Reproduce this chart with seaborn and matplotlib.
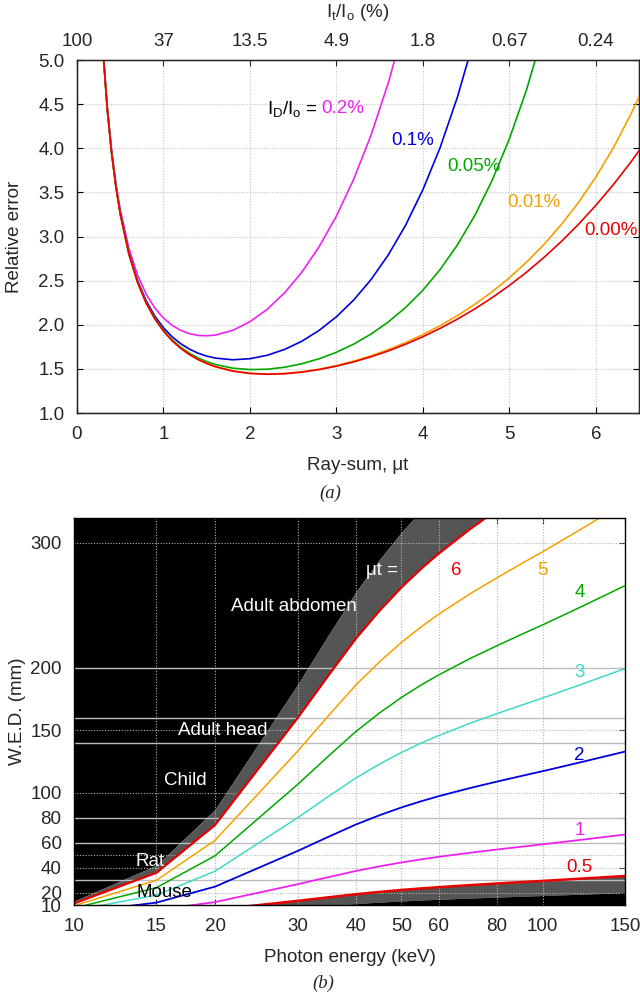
import matplotlib
matplotlib.use("Agg")
import matplotlib.pyplot as plt
import seaborn as sns

# ---- panel (a): relative error vs ray-sum ----
raysum = [0.3, 0.35, 0.4, 0.45, 0.5, 0.6, 0.7, 0.8, 0.9, 1.0, 1.1, 1.2, 1.3, 1.4, 1.5, 1.6,
          1.8, 2.0, 2.2, 2.4, 2.6, 2.8, 3.0, 3.2, 3.4, 3.6, 3.8, 4.0, 4.2, 4.4, 4.6, 4.8,
          5.0, 5.2, 5.4, 5.6, 5.8, 6.0, 6.2, 6.4, 6.5]
err_000 = [5.110, 4.444, 3.946, 3.561, 3.255, 2.800, 2.480, 2.245, 2.067, 1.928, 1.819, 1.732,
           1.662, 1.606, 1.561, 1.525, 1.475, 1.448, 1.439, 1.445, 1.463, 1.492, 1.531, 1.579,
           1.637, 1.703, 1.779, 1.864, 1.959, 2.064, 2.179, 2.306, 2.445, 2.596, 2.762, 2.942,
           3.138, 3.352, 3.584, 3.836, 3.971]
err_001 = [5.110, 4.444, 3.946, 3.561, 3.255, 2.800, 2.480, 2.245, 2.068, 1.929, 1.819, 1.733,
           1.663, 1.607, 1.562, 1.526, 1.477, 1.450, 1.442, 1.448, 1.467, 1.497, 1.537, 1.588,
           1.648, 1.718, 1.798, 1.888, 1.990, 2.104, 2.231, 2.373, 2.532, 2.710, 2.909, 3.133,
           3.385, 3.672, 3.999, 4.373, 4.581]
err_005 = [5.111, 4.446, 3.949, 3.564, 3.258, 2.804, 2.485, 2.251, 2.075, 1.938, 1.831, 1.745,
           1.678, 1.624, 1.582, 1.550, 1.508, 1.492, 1.496, 1.518, 1.558, 1.614, 1.688, 1.780,
           1.894, 2.031, 2.195, 2.391, 2.626, 2.905, 3.237, 3.633, 4.104, 4.665, 5.334]
err_01 = [5.116, 4.452, 3.956, 3.573, 3.268, 2.817, 2.501, 2.271, 2.098, 1.966, 1.864, 1.785,
          1.724, 1.678, 1.645, 1.622, 1.603, 1.615, 1.654, 1.720, 1.813, 1.936, 2.090, 2.280,
          2.511, 2.791, 3.127, 3.529, 4.008, 4.580, 5.260]
err_02 = [5.136, 4.476, 3.985, 3.606, 3.306, 2.866, 2.563, 2.347, 2.190, 2.076, 1.993, 1.936,
          1.899, 1.879, 1.875, 1.883, 1.936, 2.034, 2.175, 2.361, 2.595, 2.883, 3.231, 3.648,
          4.146, 4.739, 5.442]
top_ticks = [0, 1, 2, 3, 4, 5, 6]
top_labels = ["100", "37", "13.5", "4.9", "1.8", "0.67", "0.24"]

# ---- panel (b): water-equivalent diameter (mm) vs photon energy (keV) ----
energy = [10, 15, 20, 30, 35, 40, 45, 50, 55, 60, 70, 80, 90, 100, 120, 150]
wed_03 = [0.56, 1.79, 3.71, 7.99, 9.72, 11.18, 12.31, 13.22, 13.96, 14.57, 15.55, 16.33,
          17.00, 17.57, 18.62, 19.93]
wed_05 = [0.94, 2.99, 6.18, 13.31, 16.20, 18.64, 20.52, 22.04, 23.26, 24.28, 25.92, 27.22,
          28.33, 29.29, 31.04, 33.22]
wed_1 = [1.88, 5.98, 12.35, 26.62, 32.40, 37.27, 41.03, 44.07, 46.52, 48.57, 51.84, 54.44,
         56.65, 58.58, 62.07, 66.45]
wed_2 = [3.75, 11.95, 24.70, 53.25, 64.80, 74.54, 82.06, 88.14, 93.04, 97.13, 103.68, 108.87,
         113.30, 117.16, 124.14, 132.89]
wed_3 = [5.63, 17.93, 37.06, 79.87, 97.20, 111.82, 123.09, 132.22, 139.56, 145.70, 155.52,
         163.31, 169.95, 175.75, 186.21, 199.34]
wed_4 = [7.51, 23.91, 49.41, 106.50, 129.60, 149.09, 164.12, 176.29, 186.08, 194.27, 207.36,
         217.75, 226.60, 234.33, 248.28, 265.78]
wed_5 = [9.38, 29.89, 61.76, 133.12, 162.00, 186.36, 205.15, 220.36, 232.60, 242.84, 259.20,
         272.19, 283.25, 292.91, 310.35, 332.23]
wed_6 = [11.26, 35.86, 74.11, 159.74, 194.40, 223.63, 246.18, 264.43, 279.12, 291.40, 311.04,
         326.62, 339.90, 351.49, 372.42, 398.67]
wed_7 = [13.14, 41.84, 86.46, 186.37, 226.80, 260.90, 287.21, 308.50, 325.64, 339.97, 362.88,
         381.06, 396.55, 410.07, 434.49, 465.12]
wed_ticks = [10, 20, 40, 60, 80, 100, 150, 200, 300]
energy_ticks = [10, 15, 20, 30, 40, 50, 60, 80, 100, 150]
body_lines = [30, 60, 80, 140, 160, 200]
dotted_levels = [20, 40, 50, 100, 150, 300]

sns.set_style("ticks")
plt.rcParams["font.family"] = ["Liberation Sans", "DejaVu Sans"]
plt.rcParams["mathtext.default"] = "regular"
FS = 13.5

MAG, BLUE, GREEN, ORANGE, RED, CYAN = "#ee22ee", "#0000dd", "#00a800", "#f5a000", "#e80000", "#40d8c8"

fig = plt.figure(figsize=(6.4, 9.96), dpi=100)

# ================= panel (a) =================
ax = fig.add_axes([77 / 640, 1 - 413 / 996, 562 / 640, 353 / 996])
for xs, ys, col in [(raysum[:27], err_02, MAG), (raysum[:31], err_01, BLUE),
                    (raysum[:35], err_005, GREEN), (raysum, err_001, ORANGE),
                    (raysum, err_000, RED)]:
    sns.lineplot(x=xs, y=ys, ax=ax, color=col, lw=1.2, sort=False, estimator=None, zorder=3)
ax.set_xlim(0, 6.5)
ax.set_ylim(1.0, 5.0)
ax.set_xticks(top_ticks)
ax.set_yticks([1.0, 1.5, 2.0, 2.5, 3.0, 3.5, 4.0, 4.5, 5.0])
ax.set_yticklabels(["1.0", "1.5", "2.0", "2.5", "3.0", "3.5", "4.0", "4.5", "5.0"])
ax.grid(True, color="#c4c4c4", linestyle=(0, (1, 1.5)), lw=0.8)
ax.tick_params(direction="in", length=4, labelsize=FS, right=True, pad=9, color="black")
for s in ax.spines.values():
    s.set_color("black")
    s.set_linewidth(1.0)
ax.set_xlabel("Ray-sum, μt", fontsize=FS, va="center")
ax.xaxis.set_label_coords(0.5, -52 / 353)
ax.set_ylabel("Relative error", fontsize=FS, va="center")
ax.yaxis.set_label_coords(-62 / 562, 0.5)

ax2 = ax.twiny()
ax2.set_xlim(0, 6.5)
ax2.set_xticks(top_ticks)
ax2.set_xticklabels(top_labels)
ax2.tick_params(direction="in", length=4, labelsize=FS, pad=7)
ax2.set_xlabel(r"I$_t$/I$_o$ (%)", fontsize=FS, va="center")
ax2.xaxis.set_label_coords(0.5, 1 + 48 / 353)

ax.text(2.80, 4.45, r"I$_D$/I$_o$ = ", fontsize=FS, ha="right", va="center", color="black")
ax.text(2.82, 4.45, "0.2%", fontsize=FS, ha="left", va="center", color=MAG)
ax.text(3.64, 4.09, "0.1%", fontsize=FS, ha="left", va="center", color=BLUE)
ax.text(4.28, 3.79, "0.05%", fontsize=FS, ha="left", va="center", color=GREEN)
ax.text(4.98, 3.39, "0.01%", fontsize=FS, ha="left", va="center", color=ORANGE)
ax.text(5.87, 3.07, "0.00%", fontsize=FS, ha="left", va="center", color=RED, clip_on=False)

fig.text(330 / 640, 1 - 493 / 996, "(a)", fontsize=FS, ha="center", va="center",
         family="Liberation Serif", style="italic")

# ================= panel (b) =================
bx = fig.add_axes([74 / 640, 1 - 905 / 996, 551 / 640, 387 / 996])
bx.set_xscale("log")
bx.fill_between(energy, wed_7, 500, color="black", lw=0, zorder=1)
bx.fill_between(energy, wed_6, wed_7, color="#555555", lw=0, zorder=1)
bx.fill_between(energy, wed_03, wed_05, color="#555555", lw=0, zorder=1)
bx.fill_between(energy, 0, wed_03, color="black", lw=0, zorder=1)
for lvl in body_lines:
    bx.axhline(lvl, color="#bdbdbd", lw=1.0, zorder=2)
for lvl in dotted_levels:
    bx.axhline(lvl, color="#b4b4b4", lw=0.8, linestyle=(0, (1, 1.5)), zorder=2)
for e in energy_ticks[1:-1]:
    bx.axvline(e, color="#b4b4b4", lw=0.8, linestyle=(0, (1, 1.5)), zorder=2)

for ys, col, lw in [(wed_6, RED, 1.6), (wed_5, ORANGE, 1.1), (wed_4, GREEN, 1.1),
                    (wed_3, CYAN, 1.1), (wed_2, BLUE, 1.3), (wed_1, MAG, 1.3),
                    (wed_05, RED, 1.8)]:
    sns.lineplot(x=energy, y=ys, ax=bx, color=col, lw=lw, sort=False, estimator=None, zorder=3)

bx.set_xlim(10, 150)
bx.set_ylim(10, 320)
bx.set_xticks(energy_ticks)
bx.set_xticklabels([str(e) for e in energy_ticks])
bx.minorticks_off()
bx.set_yticks(wed_ticks)
bx.set_yticklabels([str(w) for w in wed_ticks])
bx.tick_params(direction="in", length=4, labelsize=FS, right=True, top=True, pad=9)
for s in bx.spines.values():
    s.set_color("black")
    s.set_linewidth(1.0)
    s.set_zorder(5)
bx.set_xlabel("Photon energy (keV)", fontsize=FS, va="center")
bx.xaxis.set_label_coords(0.5, -52 / 387)
bx.set_ylabel("W.E.D. (mm)", fontsize=FS, va="center")
bx.yaxis.set_label_coords(-56 / 551, 0.5)

txt = dict(fontsize=FS, ha="center", va="center", zorder=6)
bx.text(29.5, 249, "Adult abdomen", color="white", **txt)
bx.text(20.8, 150, "Adult head", color="white", **txt)
bx.text(17.3, 110, "Child", color="white", **txt)
bx.text(14.5, 45, "Rat", color="white", **txt)
bx.text(15.6, 20, "Mouse", color="black", **txt)
bx.text(45.5, 278, "μt =", color="white", **txt)
bx.text(65.3, 278, "6", color=RED, **txt)
bx.text(100, 278, "5", color=ORANGE, **txt)
bx.text(120, 260, "4", color=GREEN, **txt)
bx.text(120, 196, "3", color=CYAN, **txt)
bx.text(120, 130, "2", color=BLUE, **txt)
bx.text(120, 70, "1", color=MAG, **txt)
bx.text(120, 40, "0.5", color=RED, **txt)

fig.text(323 / 640, 1 - 983 / 996, "(b)", fontsize=FS, ha="center", va="center",
         family="Liberation Serif", style="italic")

fig.savefig("out.png", dpi=100)
